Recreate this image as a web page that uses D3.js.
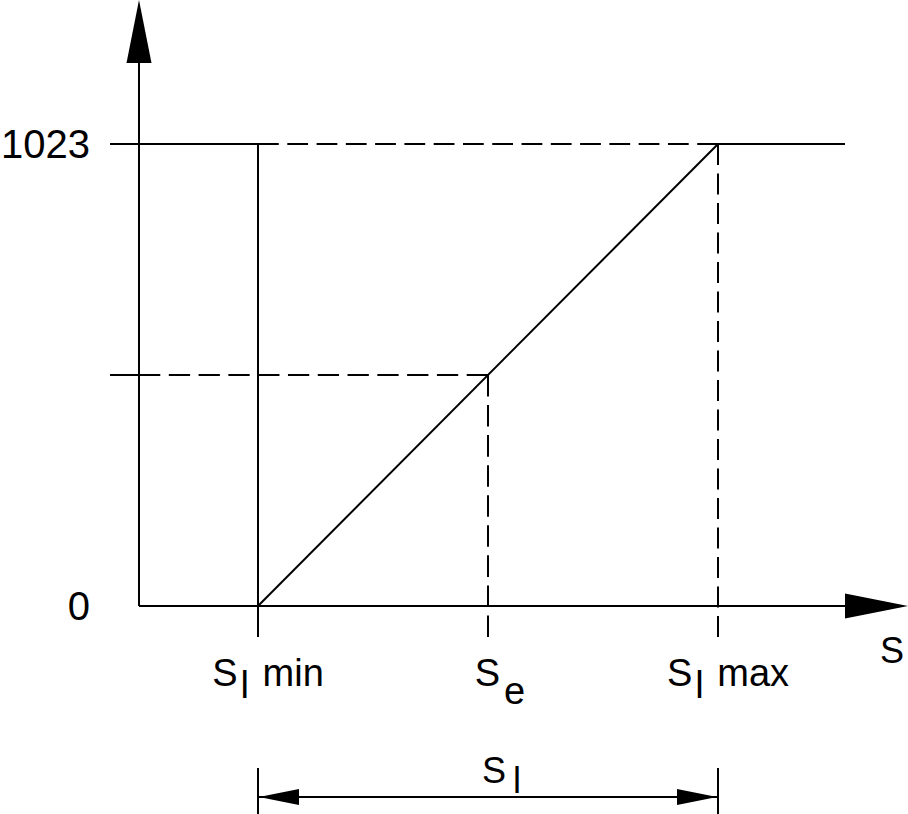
<!DOCTYPE html>
<html>
<head>
<meta charset="utf-8">
<script src="https://cdn.jsdelivr.net/npm/d3@7"></script>
<style>
  body { margin: 0; background: #fff; }
  text { font-family: "Liberation Sans", Arial, sans-serif; fill: #000; }
</style>
</head>
<body>
<svg id="chart" width="908" height="814"></svg>
<script>
// values
const yTickValues = [0, 1023];
const yTickLabels = ["0", "1023"];
const markNames = ["l", "e", "l"];
const markSuffix = [" min", "", " max"];
const markValues = [0, 511.5, 1023];
const rampS = [0, 1023];
const rampOut = [0, 1023];
const spanLabel = "l";

const width = 908, height = 814;
const svg = d3.select("#chart");

// scales: signal units -> pixels
const x = d3.scaleLinear().domain([0, 1023]).range([258, 718]);
const y = d3.scaleLinear().domain([0, 1023]).range([606, 144]);

const originX = 139;        // y axis position
const arrowLen = 63, arrowHalf = 12.5;
const tickBottom = 637;
const dimY = 797;

const ink = "#000";
const g = svg.append("g").attr("stroke", ink).attr("stroke-width", 2).attr("fill", "none");

function line(x1, y1, x2, y2) {
  return g.append("line").attr("x1", x1).attr("y1", y1).attr("x2", x2).attr("y2", y2);
}
// dashed line that starts and ends with a dash, like the CAD drawing
function dashed(x1, y1, x2, y2) {
  const len = Math.hypot(x2 - x1, y2 - y1), gap = 8.5;
  const n = Math.max(1, Math.round((len + gap) / 30));
  const d = (len - (n - 1) * gap) / n;
  return line(x1, y1, x2, y2).attr("stroke-dasharray", d + "," + gap);
}
function arrow(tx, ty, dx, dy) {
  // tip at (tx,ty), pointing along (dx,dy)
  const bx = tx - dx * arrowLen, by = ty - dy * arrowLen;
  const px = -dy * arrowHalf, py = dx * arrowHalf;
  svg.append("path")
    .attr("d", `M${tx},${ty}L${bx + px},${by + py}L${bx - px},${by - py}Z`)
    .attr("fill", ink);
}
function smallArrow(tx, ty, dir) {
  svg.append("path")
    .attr("d", `M${tx},${ty}L${tx - dir * 40},${ty - 8}L${tx - dir * 40},${ty + 8}Z`)
    .attr("fill", ink);
}

// axes
line(originX, y(0), width - arrowLen + 2, y(0));
arrow(width, y(0), 1, 0);
line(originX, y(0), originX, arrowLen - 2);
arrow(originX, 0, 0, -1);

// 1023 level: solid stubs, dashed between
line(110, y(1023), x(rampS[0]), y(1023));
dashed(x(rampS[0]), y(1023), x(rampS[1]), y(1023));
line(x(rampS[1]), y(1023), 845, y(1023));

// middle level to S_e
dashed(110, y(markValues[1]), originX, y(markValues[1]));
dashed(originX, y(markValues[1]), x(markValues[1]), y(markValues[1]));
dashed(x(markValues[1]), y(markValues[1]), x(markValues[1]), tickBottom);

// S_l min solid vertical, S_l max dashed vertical
line(x(markValues[0]), y(1023), x(markValues[0]), tickBottom);
dashed(x(markValues[2]), y(1023), x(markValues[2]), tickBottom);

// ramp
line(x(rampS[0]), y(rampOut[0]), x(rampS[1]), y(rampOut[1]));

// y labels
svg.selectAll(".ylab").data(yTickValues).join("text")
  .attr("class", "ylab")
  .attr("x", 90).attr("y", d => y(d) + 14)
  .attr("text-anchor", "end")
  .attr("font-size", 40)
  .text((d, i) => yTickLabels[i]);

// x labels
const labels = svg.selectAll(".xlab").data(markValues).join("text")
  .attr("class", "xlab")
  .attr("x", (d, i) => x(d) + (i === 1 ? 12 : 10)).attr("y", 686)
  .attr("text-anchor", "middle")
  .attr("font-size", 38);
labels.append("tspan").text("S");
labels.append("tspan").attr("dx", (d, i) => i === 1 ? 4 : 3).attr("dy", (d, i) => i === 1 ? 18 : 12)
  .text((d, i) => markNames[i]);
labels.append("tspan").attr("dy", -12).attr("dx", 3).text((d, i) => markSuffix[i]);

// axis name
svg.append("text").attr("x", 880).attr("y", 663).attr("font-size", 36).text("S");

// dimension S_l
line(x(rampS[0]), 768, x(rampS[0]), height);
line(x(rampS[1]), 768, x(rampS[1]), height);
line(x(rampS[0]), dimY, x(rampS[1]), dimY);
smallArrow(x(rampS[0]) + 1, dimY, -1);
smallArrow(x(rampS[1]) - 1, dimY, 1);
const dimText = svg.append("text").attr("x", 482).attr("y", 783).attr("font-size", 36);
dimText.append("tspan").text("S");
dimText.append("tspan").attr("dx", 7).attr("dy", 10).text(spanLabel);
</script>
</body>
</html>
